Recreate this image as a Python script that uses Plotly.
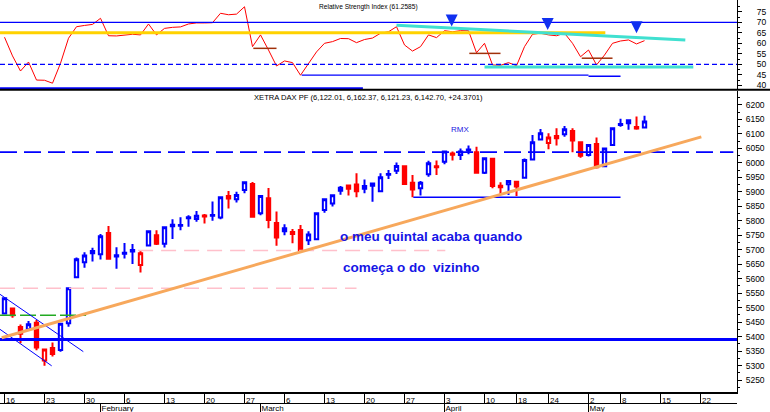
import pandas as pd
import plotly.graph_objects as go

# ---------------- data ----------------
HOLIDAYS = ["2006-04-14", "2006-04-17", "2006-05-01"]
SESSIONS = [d.strftime("%Y-%m-%d") for d in pd.bdate_range("2006-01-16", "2006-05-31")
            if d.strftime("%Y-%m-%d") not in HOLIDAYS]

OPEN = [5480, 5497, 5433, 5425, 5448, 5317, 5361, 5354, 5446, 5605,
        5657, 5688, 5684, 5758, 5677, 5686, 5699, 5647, 5715, 5750,
        5721, 5786, 5783, 5809, 5806, 5818, 5817, 5811, 5886, 5874,
        5906, 5927, 5826, 5878, 5792, 5764, 5754, 5768, 5733, 5736,
        5837, 5860, 5904, 5922, 5925, 5911, 5921, 5902, 5959, 5973,
        5988, 5931, 5912, 5961, 5988, 6004, 6032, 6027, 6043, 6037,
        5966, 6014, 5921, 5926, 5935, 5949, 6012, 6081, 6069, 6093,
        6099, 6110, 6071, 6027, 6065, 5988, 6062, 6131, 6137, 6124, 6122.01]
HIGH = [5535, 5499, 5442, 5454, 5457, 5357, 5380, 5446, 5567, 5673,
        5691, 5707, 5754, 5782, 5709, 5723, 5720, 5696, 5766, 5767,
        5780, 5805, 5812, 5819, 5834, 5823, 5867, 5881, 5903, 5900,
        5934, 5934, 5886, 5913, 5832, 5788, 5772, 5785, 5764, 5826,
        5874, 5888, 5920, 5925, 5964, 5943, 5930, 5964, 5975, 6001,
        5991, 5958, 5937, 6007, 6008, 6041, 6039, 6050, 6060, 6056,
        6016, 6014, 5933, 5940, 5936, 6015, 6096, 6117, 6102, 6120,
        6127, 6120, 6071, 6062, 6088, 6050, 6120, 6152, 6149, 6160, 6162.37]
LOW = [5478, 5465, 5377, 5423, 5353, 5299, 5331, 5348, 5434, 5603,
       5638, 5659, 5666, 5666, 5634, 5670, 5651, 5621, 5713, 5716,
       5708, 5737, 5767, 5779, 5797, 5791, 5800, 5805, 5842, 5863,
       5895, 5814, 5819, 5774, 5714, 5750, 5722, 5697, 5716, 5733,
       5828, 5849, 5890, 5887, 5881, 5895, 5866, 5900, 5944, 5962,
       5927, 5881, 5887, 5952, 5958, 5995, 6008, 6010, 6030, 5966,
       5962, 5912, 5891, 5889, 5886, 5947, 6010, 6079, 6047, 6060,
       6090, 6037, 6018, 6022, 5981, 5985, 6060, 6125, 6114, 6114, 6121.23]
CLOSE = [5532, 5474, 5410, 5443, 5362, 5355, 5340, 5444, 5567, 5667,
         5680, 5696, 5747, 5669, 5681, 5690, 5694, 5688, 5764, 5721,
         5778, 5781, 5785, 5812, 5817, 5815, 5820, 5881, 5877, 5889,
         5933, 5814, 5886, 5803, 5742, 5774, 5761, 5699, 5753, 5826,
         5874, 5888, 5914, 5911, 5902, 5920, 5929, 5950, 5962, 5989,
         5927, 5908, 5931, 5999, 5985, 6039, 6028, 6039, 6046, 5966,
         6016, 5920, 5916, 5937, 5918, 6010, 6071, 6102, 6088, 6085,
         6116, 6077, 6025, 6062, 5985, 6050, 6120, 6134, 6147, 6118.33, 6142.70]
RSI = [62.9, 54.0, 46.8, 51.1, 42.5, 42.4, 41.0, 50.5, 62.4, 67.9,
       68.5, 69.0, 71.9, 63.6, 63.5, 64.0, 64.3, 64.0, 69.2, 64.0,
       67.1, 67.6, 67.8, 69.2, 69.7, 69.7, 69.8, 74.3, 73.6, 73.9,
       77.4, 58.4, 64.0, 56.8, 49.2, 51.6, 50.8, 44.8, 50.1, 55.9,
       60.0, 60.8, 62.3, 62.2, 60.3, 61.8, 62.5, 64.8, 65.5, 67.9,
       59.2, 56.3, 58.4, 64.0, 62.7, 66.0, 65.5, 66.0, 66.0, 55.5,
       60.0, 49.7, 49.5, 50.8, 49.3, 58.4, 64.3, 64.8, 64.0, 63.6,
       64.8, 60.0, 53.6, 56.8, 49.7, 54.4, 60.0, 61.1, 61.6, 59.7, 61.26]

DAY_TICKS = ["2006-01-16", "2006-01-23", "2006-01-30", "2006-02-06", "2006-02-13",
             "2006-02-20", "2006-02-27", "2006-03-06", "2006-03-13", "2006-03-20",
             "2006-03-27", "2006-04-03", "2006-04-10", "2006-04-18", "2006-04-24",
             "2006-05-02", "2006-05-08", "2006-05-15", "2006-05-22"]
MONTH_TICKS = ["2006-02-01", "2006-03-01", "2006-04-03", "2006-05-02"]
MONTH_LABELS = ["February", "March", "April", "May"]
PRICE_TICKS = list(range(5250, 6201, 50))
RSI_TICKS = list(range(40, 76, 5))

# drawn studies (session index, value)
TREND_X, TREND_Y = [-0.35, 87.1], [5396, 6090]
CHAN1_X, CHAN1_Y = [-0.56, 9.85], [5546, 5348]
CHAN2_X, CHAN2_Y = [-0.56, 5.9], [5425, 5299]
SUPPORT_LEVEL = 5390
RESIST_LEVEL = 6037
PINK1_X, PINK1_Y = [16.7, 55.1], 5697
PINK2_X, PINK2_Y = [-0.56, 44.0], 5567
GREEN_X, GREEN_Y = [-0.56, 10.2], 5474
FLOOR_X, FLOOR_Y = [51.1, 77.0], 5881

RSI_YELLOW_X, RSI_YELLOW_Y = [-0.56, 75.1], 65.05
RSI_CYAN_X, RSI_CYAN_Y = [49.0, 85.1], [68.6, 61.6]
RSI_CYAN2_X, RSI_CYAN2_Y = [60.0, 86.1], 48.7
RSI_LOW1_X, RSI_LOW1_Y = [37.15, 73.0], 44.8
RSI_LOW2_X, RSI_LOW2_Y = [73.0, 77.0], 44.3
RSI_BOTTOM_X, RSI_BOTTOM_Y = [-0.56, 44.8], 38.6
RSI_BROWN = [([31.1, 34.0], 57.6), ([58.1, 62.0], 55.2), ([72.15, 76.0], 52.9)]
ARROW_X = [55.9, 67.9, 79.0]
ARROW_Y = [67.95, 66.3, 64.8]

# ---------------- figure ----------------
W, H = 770, 412
PLOT_R = 737
BLUE = "#0000FF"
RED = "#FF0000"
FONT = "Liberation Sans, Arial, sans-serif"

pos = {d: i for i, d in enumerate(SESSIONS)}
X = list(range(len(CLOSE)))
up_col = [i for i in X if i == 0 or CLOSE[i] >= CLOSE[i - 1]]
dn_col = [i for i in X if not (i == 0 or CLOSE[i] >= CLOSE[i - 1])]


def sub(lst, idx):
    return [lst[i] for i in idx]


fig = go.Figure()
for idx, col in ((up_col, BLUE), (dn_col, RED)):
    fig.add_trace(go.Candlestick(
        x=idx, open=sub(OPEN, idx), high=sub(HIGH, idx), low=sub(LOW, idx), close=sub(CLOSE, idx),
        increasing=dict(line=dict(color=col, width=2), fillcolor="white"),
        decreasing=dict(line=dict(color=col, width=2), fillcolor=col),
        whiskerwidth=0, showlegend=False, hoverinfo="skip", xaxis="x", yaxis="y"))

fig.add_trace(go.Scatter(x=X, y=RSI, mode="lines", line=dict(color=RED, width=1),
                         showlegend=False, hoverinfo="skip", xaxis="x2", yaxis="y2"))
# carrier trace for month axis
fig.add_trace(go.Scatter(x=[X[0]], y=[CLOSE[0]], mode="markers", marker=dict(opacity=0),
                         showlegend=False, hoverinfo="skip", xaxis="x3", yaxis="y"))

shapes = []


def seg(x, y, color, width, dash="solid", xr="x", yr="y"):
    y0, y1 = (y, y) if not isinstance(y, list) else y
    shapes.append(dict(type="line", xref=xr, yref=yr, x0=x[0], x1=x[1], y0=y0, y1=y1,
                       line=dict(color=color, width=width, dash=dash), layer="above"))


XMIN, XMAX = -0.5625, 91.56
# main panel studies
seg([XMIN, XMAX], SUPPORT_LEVEL, BLUE, 3)
seg([XMIN, 91.1], RESIST_LEVEL, BLUE, 1.6, "17px,7px")
seg(PINK1_X, PINK1_Y, "#FFC0CB", 1.5, "15px,8px")
seg(PINK2_X, PINK2_Y, "#FFC0CB", 1.5, "15px,8px")
seg(GREEN_X, GREEN_Y, "#22AA22", 1.5, "16px,4px")
seg(CHAN1_X, CHAN1_Y, BLUE, 1)
seg(CHAN2_X, CHAN2_Y, BLUE, 1)
seg(FLOOR_X, FLOOR_Y, BLUE, 1.5)
seg(TREND_X, TREND_Y, "#F7A85C", 3)
# RSI panel studies
seg([XMIN, XMAX], 70, BLUE, 1.3, xr="x2", yr="y2")
seg([XMIN, XMAX], 50, BLUE, 1.3, "5px,3px", xr="x2", yr="y2")
seg(RSI_YELLOW_X, RSI_YELLOW_Y, "#FFD200", 3, xr="x2", yr="y2")
seg(RSI_CYAN_X, RSI_CYAN_Y, "#40E0D0", 3, xr="x2", yr="y2")
seg(RSI_CYAN2_X, RSI_CYAN2_Y, "#40E0D0", 3, xr="x2", yr="y2")
seg(RSI_LOW1_X, RSI_LOW1_Y, BLUE, 1.3, xr="x2", yr="y2")
seg(RSI_LOW2_X, RSI_LOW2_Y, BLUE, 1.3, xr="x2", yr="y2")
seg(RSI_BOTTOM_X, RSI_BOTTOM_Y, BLUE, 2, xr="x2", yr="y2")
for bx, by in RSI_BROWN:
    seg(bx, by, "#A0300A", 1.5, xr="x2", yr="y2")
# panel separator
shapes.append(dict(type="line", xref="paper", yref="paper", x0=0, x1=1,
                   y0=(H - 89.8) / H, y1=(H - 89.8) / H, line=dict(color="black", width=2)))

annotations = [
    dict(text="Relative Strength Index (61.2585)", xref="x2", yref="paper", x=45.5, y=(H - 7) / H,
         showarrow=False, font=dict(size=6.6, color="black", family=FONT), xanchor="center", yanchor="middle"),
    dict(text="XETRA DAX PF (6,122.01, 6,162.37, 6,121.23, 6,142.70, +24.3701)", xref="x", yref="paper",
         x=45.5, y=(H - 97) / H, showarrow=False, font=dict(size=7.6, color="black", family=FONT),
         xanchor="center", yanchor="middle"),
    dict(text="RMX", xref="x", yref="y", x=56.9, y=6117, showarrow=False,
         font=dict(size=8, color="#2020E0", family=FONT)),
    dict(text="<b>o meu quintal acaba quando</b>", xref="x", yref="y", x=41.7, y=5745, showarrow=False,
         xanchor="left", yanchor="middle", font=dict(size=13.5, color="#1515E6", family=FONT)),
    dict(text="<b>começa o do  vizinho</b>", xref="x", yref="y", x=42.1, y=5638, showarrow=False,
         xanchor="left", yanchor="middle", font=dict(size=13.5, color="#1515E6", family=FONT)),
]
for ax_, ay_ in zip(ARROW_X, ARROW_Y):
    annotations.append(dict(text="", xref="x2", yref="y2", x=ax_, y=ay_, showarrow=True,
                            arrowhead=2, arrowsize=0.8, arrowwidth=3, arrowcolor="#1030F0",
                            ax=0, ay=-12))

tickfont = dict(size=8.5, color="black", family=FONT)
xtickfont = dict(size=8, color="black", family=FONT)
xdom = [0, PLOT_R / W]
fig.update_layout(
    width=W, height=H, margin=dict(l=0, r=0, t=0, b=0, autoexpand=False),
    paper_bgcolor="white", plot_bgcolor="white", font=dict(family=FONT),
    boxgap=0.4, shapes=shapes, annotations=annotations, showlegend=False,
    xaxis=dict(domain=xdom, range=[XMIN, XMAX], anchor="y", automargin=False,
               tickmode="array", tickvals=[pos[d] for d in DAY_TICKS],
               ticktext=[str(int(d[-2:])) for d in DAY_TICKS],
               ticks="outside", ticklen=10, tickwidth=1, tickcolor="black",
               ticklabelposition="outside right", ticklabelstandoff=-1, tickfont=xtickfont,
               showline=True, linewidth=2, linecolor="black",
               showgrid=False, zeroline=False, rangeslider=dict(visible=False)),
    xaxis2=dict(domain=xdom, matches="x", anchor="y2", showticklabels=False, ticks="", automargin=False,
                showgrid=False, zeroline=False, showline=False, rangeslider=dict(visible=False)),
    xaxis3=dict(domain=xdom, overlaying="x", anchor="free", position=(H - 402.7) / H, automargin=False,
                range=[XMIN, XMAX], tickmode="array", tickvals=[pos[d] for d in MONTH_TICKS],
                ticktext=MONTH_LABELS, ticks="outside", ticklen=10, tickwidth=1, tickcolor="black",
                ticklabelposition="outside right", ticklabelstandoff=-2, tickfont=xtickfont,
                showline=True, linewidth=1, linecolor="black", showgrid=False, zeroline=False),
    yaxis=dict(domain=[(H - 392) / H, (H - 90.5) / H], range=[5208.6, 6250], anchor="x", side="right",
               automargin=False,
               tickmode="array", tickvals=PRICE_TICKS, ticks="outside", ticklen=4, tickcolor="black",
               tickfont=tickfont, ticklabelstandoff=2,
               minor=dict(tickvals=list(range(5225, 6250, 50)), ticks="outside", ticklen=2, tickcolor="black"),
               showline=True, linecolor="black", linewidth=1, showgrid=False, zeroline=False),
    yaxis2=dict(domain=[(H - 89) / H, 1], range=[38.24, 80.62], anchor="x2", side="right",
                automargin=False,
                tickmode="array", tickvals=RSI_TICKS, ticks="outside", ticklen=4, tickcolor="black",
                tickfont=tickfont, ticklabelstandoff=13,
                minor=dict(tickvals=[37.5 + 5 * k for k in range(9)], ticks="outside", ticklen=2,
                           tickcolor="black"),
                showline=True, linecolor="black", linewidth=1, showgrid=False, zeroline=False),
)

fig.write_html("out.html", config={"displayModeBar": False},
               post_script="document.body.style.margin='0';document.body.style.overflow='hidden';")
